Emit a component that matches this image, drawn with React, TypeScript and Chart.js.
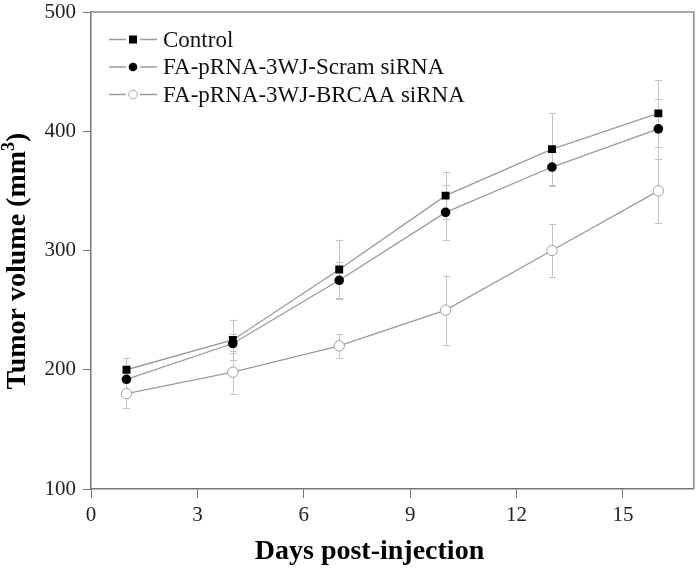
import React, { useEffect, useRef } from "react";
import { Chart, registerables } from "chart.js";

Chart.register(...registerables);

const days = [1, 4, 7, 10, 13, 16];
const control = [200, 225, 284, 346, 385, 415];
const controlErr = [10, 17, 25, 20, 30, 28];
const scram = [192, 222, 275, 332, 370, 402];
const scramErr = [8, 8, 15, 23, 16, 25];
const brcaa = [180, 198, 220, 250, 300, 350];
const brcaaErr = [12, 18, 10, 29, 22, 27];

const seriesLabels = [
  "Control",
  "FA-pRNA-3WJ-Scram siRNA",
  "FA-pRNA-3WJ-BRCAA siRNA",
];
const xTicks = [0, 3, 6, 9, 12, 15];
const yTicks = [100, 200, 300, 400, 500];
const xTitle = "Days post-injection";
const yTitleMain = "Tumor volume (mm";
const yTitleSup = "3";
const yTitleEnd = ")";

const FONT = "'Liberation Serif', 'Times New Roman', serif";
const LINE = "#9a9a9a";
const ERR = "#c4c4c4";

const errorBars = [controlErr, scramErr, brcaaErr];

const errorBarPlugin = {
  id: "errorBars",
  beforeDatasetsDraw(chart: any) {
    const ctx = chart.ctx;
    const ys = chart.scales.y;
    ctx.save();
    ctx.strokeStyle = ERR;
    ctx.lineWidth = 1;
    chart.data.datasets.forEach((ds: any, i: number) => {
      const meta = chart.getDatasetMeta(i);
      meta.data.forEach((pt: any, j: number) => {
        const v = ds.data[j].y;
        const e = errorBars[i][j];
        const yT = ys.getPixelForValue(v + e);
        const yB = ys.getPixelForValue(v - e);
        const x = Math.round(pt.x) + 0.5;
        ctx.beginPath();
        ctx.moveTo(x, yT);
        ctx.lineTo(x, yB);
        ctx.moveTo(x - 3.5, Math.round(yT) + 0.5);
        ctx.lineTo(x + 3.5, Math.round(yT) + 0.5);
        ctx.moveTo(x - 3.5, Math.round(yB) + 0.5);
        ctx.lineTo(x + 3.5, Math.round(yB) + 0.5);
        ctx.stroke();
      });
    });
    ctx.restore();
  },
};

const decorPlugin = {
  id: "decor",
  afterDraw(chart: any) {
    const ctx = chart.ctx;
    const a = chart.chartArea;
    ctx.save();
    // frame top/right
    ctx.strokeStyle = "#8a8a8a";
    ctx.lineWidth = 1.5;
    ctx.beginPath();
    ctx.moveTo(a.left, a.top);
    ctx.lineTo(a.right, a.top);
    ctx.lineTo(a.right, a.bottom);
    ctx.stroke();

    // legend
    const rowGap = 27.5;
    chart.data.datasets.forEach((ds: any, i: number) => {
      const y = a.top + 27.5 + i * rowGap;
      const x0 = a.left + 18;
      ctx.strokeStyle = LINE;
      ctx.lineWidth = 1.3;
      ctx.beginPath();
      ctx.moveTo(x0, y);
      ctx.lineTo(x0 + 17, y);
      ctx.moveTo(x0 + 31, y);
      ctx.lineTo(x0 + 48, y);
      ctx.stroke();
      const mx = x0 + 24;
      if (i === 0) {
        ctx.fillStyle = "#000";
        ctx.fillRect(mx - 4, y - 4, 8, 8);
      } else if (i === 1) {
        ctx.fillStyle = "#000";
        ctx.beginPath();
        ctx.arc(mx, y, 4.3, 0, Math.PI * 2);
        ctx.fill();
      } else {
        ctx.fillStyle = "#fff";
        ctx.strokeStyle = "#a8a8a8";
        ctx.lineWidth = 1;
        ctx.beginPath();
        ctx.arc(mx, y, 4.3, 0, Math.PI * 2);
        ctx.fill();
        ctx.stroke();
      }
      ctx.fillStyle = "#111";
      ctx.font = `23px ${FONT}`;
      ctx.textAlign = "left";
      ctx.textBaseline = "middle";
      ctx.fillText(ds.label, x0 + 54, y + 1);
    });

    // x title
    ctx.fillStyle = "#000";
    ctx.font = `bold 28px ${FONT}`;
    ctx.textAlign = "center";
    ctx.textBaseline = "middle";
    ctx.fillText(xTitle, a.left + a.width * 0.462, a.bottom + 63);

    // y title
    ctx.translate(18, a.top + a.height * 0.522);
    ctx.rotate(-Math.PI / 2);
    ctx.textAlign = "left";
    ctx.textBaseline = "middle";
    ctx.font = `bold 28px ${FONT}`;
    const w1 = ctx.measureText(yTitleMain).width;
    const w3 = ctx.measureText(yTitleEnd).width;
    ctx.font = `bold 18px ${FONT}`;
    const w2 = ctx.measureText(yTitleSup).width;
    const total = w1 + w2 + w3;
    let x = -total / 2;
    ctx.font = `bold 28px ${FONT}`;
    ctx.fillText(yTitleMain, x, 0);
    x += w1;
    ctx.font = `bold 18px ${FONT}`;
    ctx.fillText(yTitleSup, x, -9);
    x += w2;
    ctx.font = `bold 28px ${FONT}`;
    ctx.fillText(yTitleEnd, x, 0);
    ctx.restore();
  },
};

function toPts(vals: number[]) {
  return vals.map((v, i) => ({ x: days[i], y: v }));
}

export default function App() {
  const ref = useRef<HTMLCanvasElement | null>(null);
  useEffect(() => {
    if (!ref.current) return;
    const chart = new Chart(ref.current, {
      type: "line",
      data: {
        datasets: [
          {
            label: seriesLabels[0],
            data: toPts(control),
            borderColor: LINE,
            borderWidth: 1.3,
            pointStyle: "rect",
            pointRadius: 5.6,
            pointBackgroundColor: "#000",
            pointBorderColor: "#000",
            pointBorderWidth: 0,
          },
          {
            label: seriesLabels[1],
            data: toPts(scram),
            borderColor: LINE,
            borderWidth: 1.3,
            pointStyle: "circle",
            pointRadius: 4.8,
            pointBackgroundColor: "#000",
            pointBorderColor: "#000",
            pointBorderWidth: 0,
          },
          {
            label: seriesLabels[2],
            data: toPts(brcaa),
            borderColor: LINE,
            borderWidth: 1.3,
            pointStyle: "circle",
            pointRadius: 5.2,
            pointBackgroundColor: "#fff",
            pointBorderColor: "#a0a0a0",
            pointBorderWidth: 1,
          },
        ],
      },
      options: {
        animation: false,
        responsive: false,
        events: [],
        layout: { padding: { top: 12, right: 4, left: 0, bottom: 0 } },
        plugins: {
          legend: { display: false },
          tooltip: { enabled: false },
          title: { display: false },
        },
        scales: {
          x: {
            type: "linear",
            min: 0,
            max: 17,
            afterBuildTicks: (s: any) => {
              s.ticks = xTicks.map((v) => ({ value: v }));
            },
            afterFit: (s: any) => {
              s.height = 82;
              s.paddingLeft = 0;
              s.paddingRight = 0;
            },
            grid: {
              display: true,
              drawOnChartArea: false,
              drawTicks: true,
              tickLength: 9,
              color: "#777",
              lineWidth: 1,
            },
            border: { display: true, color: "#777", width: 1.5 },
            ticks: {
              padding: 5,
              color: "#222",
              font: { family: FONT, size: 21 },
              maxRotation: 0,
            },
          },
          y: {
            type: "linear",
            min: 100,
            max: 500,
            afterBuildTicks: (s: any) => {
              s.ticks = yTicks.map((v) => ({ value: v }));
            },
            afterFit: (s: any) => {
              s.width = 91;
              s.paddingTop = 0;
              s.paddingBottom = 0;
            },
            grid: {
              display: true,
              drawOnChartArea: false,
              drawTicks: true,
              tickLength: 8,
              color: "#777",
              lineWidth: 1,
            },
            border: { display: true, color: "#777", width: 1.5 },
            ticks: {
              padding: 7,
              color: "#222",
              font: { family: FONT, size: 21 },
            },
          },
        },
      },
      plugins: [errorBarPlugin, decorPlugin],
    });
    return () => chart.destroy();
  }, []);
  return (
    <div style={{ position: "absolute", left: 0, top: 0, width: 700, height: 571, background: "#fff" }}>
      <canvas ref={ref} width={700} height={571} style={{ width: 700, height: 571, display: "block" }} />
    </div>
  );
}
